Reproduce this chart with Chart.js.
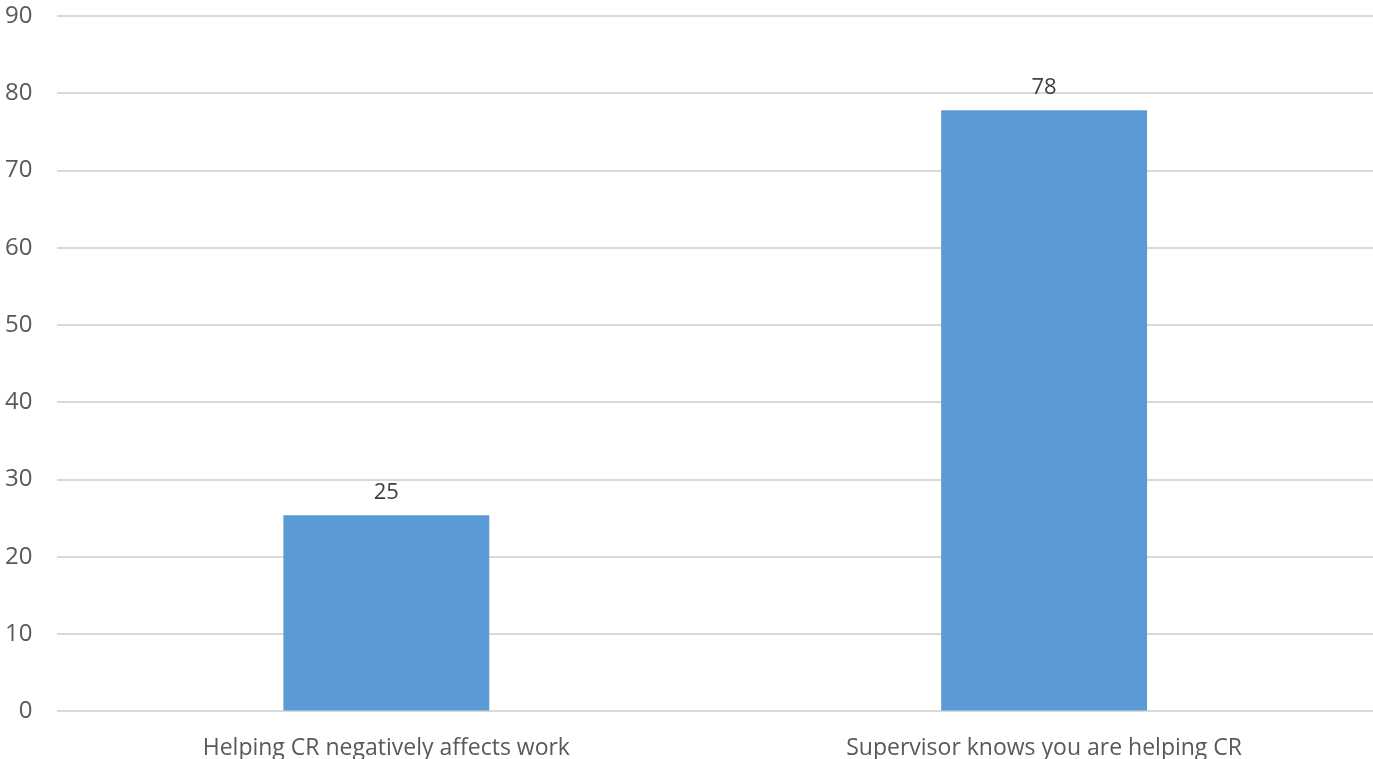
<!DOCTYPE html>
<html>
<head>
<meta charset="utf-8">
<script src="https://cdn.jsdelivr.net/npm/chart.js@4"></script>
<style>
  body { margin: 0; background: #fff; }
  #wrap { width: 1373px; height: 759px; }
</style>
</head>
<body>
<div id="wrap"><canvas id="miGrafica"></canvas></div>
<script>
// datos de la grafica
const categorias = ["Helping CR negatively affects work", "Supervisor knows you are helping CR"];
const valores = [25.4, 77.8];
const etiquetas = ["25", "78"];

// dibuja los numeros encima de cada barra
const etiquetasBarras = {
    id: "etiquetasBarras",
    afterDatasetsDraw(chart) {
        const ctx = chart.ctx;
        const meta = chart.getDatasetMeta(0);
        ctx.save();
        ctx.font = "22px 'Open Sans'";
        ctx.fillStyle = "#404040";
        ctx.textAlign = "center";
        ctx.textBaseline = "alphabetic";
        meta.data.forEach((bar, i) => {
            ctx.fillText(etiquetas[i], bar.x, bar.y - 16);
        });
        ctx.restore();
    }
};

let micanvas = document.getElementById("miGrafica").getContext("2d");
let chart = new Chart(micanvas, {
    type: "bar",
    data: {
        labels: categorias,
        datasets: [
            {
                data: valores,
                backgroundColor: "#5b9bd5",
                categoryPercentage: 1,
                barPercentage: 0.313
            }
        ]
    },
    options: {
        responsive: true,
        maintainAspectRatio: false,
        animation: false,
        layout: { padding: { top: 16, left: -20, right: 0, bottom: -18 } },
        plugins: {
            legend: { display: false },
            tooltip: { enabled: false }
        },
        scales: {
            x: {
                grid: { display: false },
                border: { display: false },
                ticks: { color: "#595959", font: { family: "Open Sans", size: 23 }, padding: 15 }
            },
            y: {
                min: 0,
                max: 90,
                afterFit: (scale) => { scale.paddingTop = 0; },
                ticks: { stepSize: 10, color: "#595959", font: { family: "Open Sans", size: 24 }, padding: 25 },
                grid: { color: "#d9d9d9", lineWidth: 2, drawTicks: false },
                border: { display: false }
            }
        }
    },
    plugins: [etiquetasBarras]
});
</script>
</body>
</html>
